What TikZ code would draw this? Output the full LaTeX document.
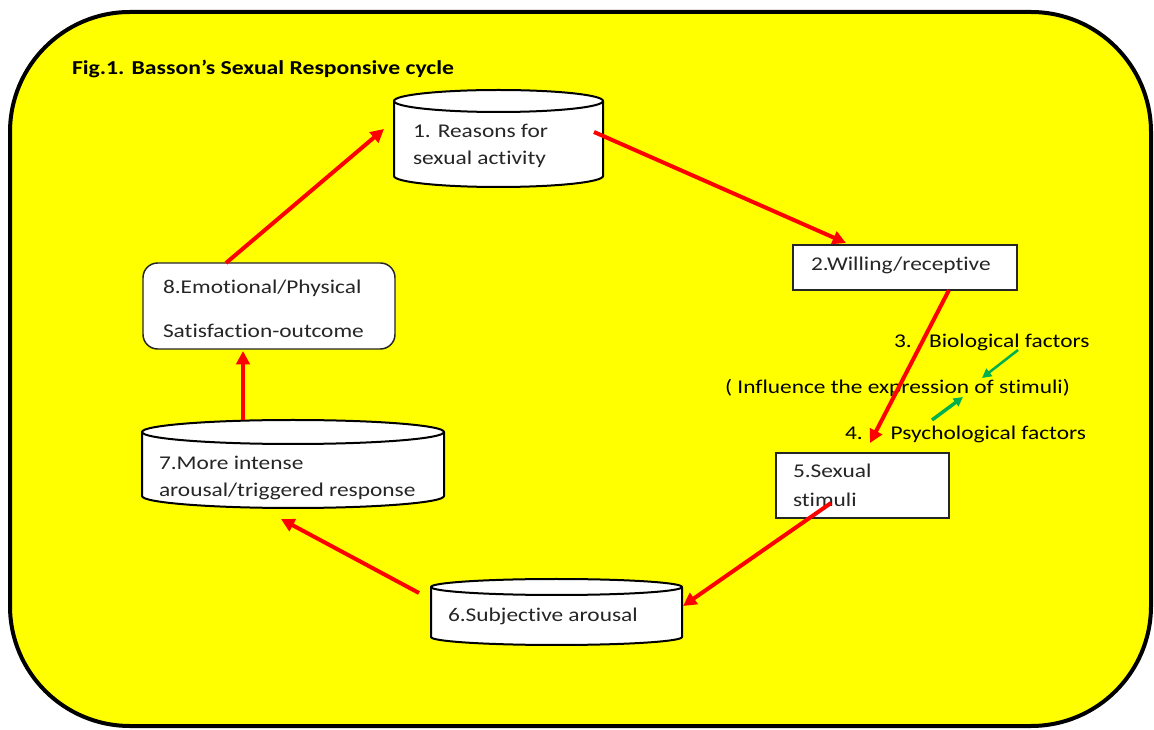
\documentclass[tikz,border=0pt]{standalone}
\usepackage{fontspec}
\setmainfont{Carlito}[FakeStretch=1.2,Ligatures=NoCommon]
\usetikzlibrary{arrows.meta,calc}
\definecolor{bgyellow}{RGB}{255,255,0}
\definecolor{arrred}{RGB}{255,0,0}
\definecolor{arrgreen}{RGB}{0,176,80}
\definecolor{txt}{RGB}{38,38,38}
\newcommand{\drum}[3]{%
  \path[fill=white,draw=black,line width=1.5pt]
    ($(#1.north west)+(0,-#3)$) -- ($(#1.south west)+(0,#3)$)
    arc[start angle=180,end angle=360,x radius=#2,y radius=#3]
    -- ($(#1.north east)+(0,-#3)$)
    arc[start angle=0,end angle=180,x radius=#2,y radius=#3] -- cycle;
  \draw[line width=1.5pt] ($(#1.north west)+(0,-#3)$)
    arc[start angle=180,end angle=360,x radius=#2,y radius=#3];
}
\tikzset{
  frame/.style={fill=bgyellow,draw=black,line width=3pt,rounded corners=90pt},
  area/.style={draw=none,inner sep=0pt,outer sep=0pt},
  boxnode/.style={draw=black!85,fill=white,line width=1.1pt,inner sep=0pt,outer sep=0pt},
  pxsize/.style 2 args={minimum width={#1*0.75pt},minimum height={#2*0.75pt}},
  lbl/.style={anchor=base west,inner sep=0pt,outer sep=0pt,text=txt,font=\fontsize{14.6}{17}\selectfont},
  redarrow/.style={draw=arrred,line width=3pt,-{Triangle[length=10pt,width=10pt]}},
  greenarrow/.style={draw=arrgreen,line width=#1,-{Triangle[length=7pt,width=7pt]}},
}
\begin{document}
\begin{tikzpicture}[x=0.75pt,y=0.75pt]
\useasboundingbox (0,0) rectangle (1154,729);
\draw[frame] (10,3) rectangle (1151,717);

\node[lbl,text=black,font=\fontsize{14.8}{17}\selectfont\bfseries] (title) at (72,654) {Fig.1. Basson’s Sexual Responsive cycle};

% shapes
\node[area,pxsize={209}{97}] (n1) at (498.5,590.5) {};
\drum{n1}{104.5}{11}
\node[boxnode,pxsize={224}{45}] (n2) at (905,461.5) {};
\node[boxnode,pxsize={173}{65}] (n5) at (862.5,243.5) {};
\node[area,pxsize={251}{66}] (n6) at (556.5,117) {};
\drum{n6}{125.5}{8}
\node[area,pxsize={302}{88}] (n7) at (293,265) {};
\drum{n7}{151}{12}
\node[boxnode,rounded corners=11pt,pxsize={252}{86}] (n8) at (269,423) {};

% texts
\node[lbl] (t1a) at (413,591) {1. Reasons for};
\node[lbl] (t1b) at (413,564) {sexual activity};
\node[lbl] (t2) at (811,458) {2.Willing/receptive};
\node[lbl] (t5a) at (793,251) {5.Sexual};
\node[lbl] (t5b) at (793,222) {stimuli};
\node[lbl] (t6) at (448,107) {6.Subjective arousal};
\node[lbl] (t7a) at (159,259) {7.More intense};
\node[lbl] (t7b) at (159,232) {arousal/triggered response};
\node[lbl] (t8a) at (163,435) {8.Emotional/Physical};
\node[lbl] (t8b) at (163,391) {Satisfaction-outcome};

\node[lbl,text=black] (l3) at (894,381) {3.\hspace{13pt}Biological factors};
\node[lbl,text=black] (li) at (725,335) {( Influence the expression of stimuli)};
\node[lbl,text=black] (l4) at (845,289) {4.\hspace{21pt}Psychological factors};

% red cycle arrows
\draw[redarrow] ($(n8.north)+(-43,0)$) -- ($(n1.west)+(-10,9.5)$);
\draw[redarrow] ($(n1.east)+(-9,6.5)$) -- ($(n2.north)+(-59,2)$);
\draw[redarrow] ($(n2.south)+(44,0)$) -- ($(n5.north)+(7.5,10)$);
\draw[redarrow] ($(n5.center)+(-31.5,-17.5)$) -- ($(n6.east)+(1,6)$);
\draw[redarrow] ($(n6.west)+(-12,19)$) -- ($(n7.south)+(-12,-11)$);
\draw[redarrow] ($(n7.north)+(-50,0)$) -- ($(n8.south)+(-26,-2)$);

% green arrows
\coordinate (g1s) at (1018,379);
\coordinate (g1e) at (982,351);
\coordinate (g2s) at (932,309);
\coordinate (g2e) at (963,332);
\draw[greenarrow=1.9pt] (g1s) -- (g1e);
\draw[greenarrow=2.6pt] (g2s) -- (g2e);
\end{tikzpicture}
\end{document}
